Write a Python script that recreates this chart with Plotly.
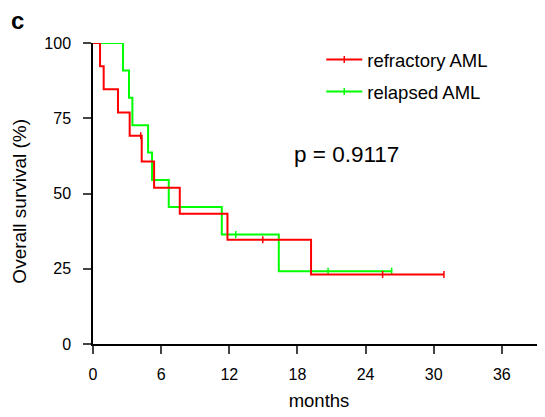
import plotly.graph_objects as go

# Kaplan-Meier estimates (months, % surviving)
refr_times = [0, 0.62, 0.94, 2.2, 3.23, 4.29, 5.38, 7.64, 11.84, 19.2, 30.9]
refr_surv = [100, 92.3, 84.6, 76.9, 69.2, 60.6, 51.9, 43.3, 34.6, 23.1, 23.1]
refr_cens_t = [4.2, 14.95, 25.5, 30.9]
refr_cens_s = [69.2, 34.6, 23.1, 23.1]

rel_times = [0, 2.64, 3.17, 3.47, 4.85, 5.2, 6.67, 11.34, 16.36, 26.3]
rel_surv = [100, 90.9, 81.8, 72.7, 63.6, 54.5, 45.5, 36.4, 24.2, 24.2]
rel_cens_t = [12.57, 20.7, 26.3]
rel_cens_s = [36.4, 24.2, 24.2]

x_ticks = [0, 6, 12, 18, 24, 30, 36]
y_ticks = [0, 25, 50, 75, 100]

RED = "#ff0000"
GREEN = "#00ff00"
FONT = "Liberation Sans, Arial, sans-serif"

fig = go.Figure()

series = [
    ("relapsed AML", rel_times, rel_surv, rel_cens_t, rel_cens_s, GREEN),
    ("refractory AML", refr_times, refr_surv, refr_cens_t, refr_cens_s, RED),
]
for name, t, s, ct, cs, col in series:
    fig.add_trace(go.Scatter(x=t, y=s, mode="lines", line=dict(color=col, width=2, shape="hv"),
                             showlegend=False, hoverinfo="skip"))
    fig.add_trace(go.Scatter(x=ct, y=cs, mode="markers",
                             marker=dict(symbol="line-ns", size=5, line=dict(color=col, width=1.5)),
                             showlegend=False, cliponaxis=False, hoverinfo="skip"))

# legend entries (line with censor tick)
for name, col, grp in [("refractory AML", RED, "g1"), ("relapsed AML", GREEN, "g2")]:
    fig.add_trace(go.Scatter(x=[None], y=[None], mode="lines+markers", name=name, legendgroup=grp,
                             line=dict(color=col, width=2),
                             marker=dict(symbol="line-ns", size=5, line=dict(color=col, width=1.5))))

# the page body adds an 8px offset; the figure is sized to fill the rest of the window
fig.update_layout(
    width=537, height=409,
    margin=dict(l=85, r=0, t=35, b=73, autoexpand=False),
    plot_bgcolor="white", paper_bgcolor="white",
    font=dict(family=FONT, color="black", size=16),
    showlegend=True,
    legend=dict(x=0.505, y=1.007, xanchor="left", yanchor="top", font=dict(size=18.5),
                tracegroupgap=5, bgcolor="rgba(0,0,0,0)", itemwidth=36),
    xaxis=dict(range=[0, 39.8], tickvals=x_ticks, ticks="outside", ticklen=8, tickwidth=1.5,
               showline=True, linecolor="black", linewidth=1.5, showgrid=False, zeroline=False,
               automargin=False, ticklabelstandoff=7,
               tickfont=dict(size=16), title=dict(text="months", font=dict(size=18.5), standoff=12)),
    yaxis=dict(range=[0, 100], tickvals=y_ticks, ticks="outside", ticklen=8, tickwidth=1.5,
               showline=True, linecolor="black", linewidth=1.5, showgrid=False, zeroline=False,
               automargin=False,
               tickfont=dict(size=16), ticklabelstandoff=9),
    annotations=[
        dict(text="<b>c</b>", xref="paper", yref="paper", x=-0.185, y=1.023, xanchor="left",
             yanchor="bottom", showarrow=False, font=dict(size=24)),
        dict(text="p = 0.9117", xref="paper", yref="paper", x=0.44, y=0.63, xanchor="left",
             yanchor="middle", showarrow=False, font=dict(size=22.5)),
        dict(text="Overall survival (%)", xref="paper", yref="paper", x=-0.1615, y=0.473,
             xanchor="center", yanchor="middle", textangle=-90, showarrow=False,
             font=dict(size=19)),
    ],
)

fig.write_html("out.html")
